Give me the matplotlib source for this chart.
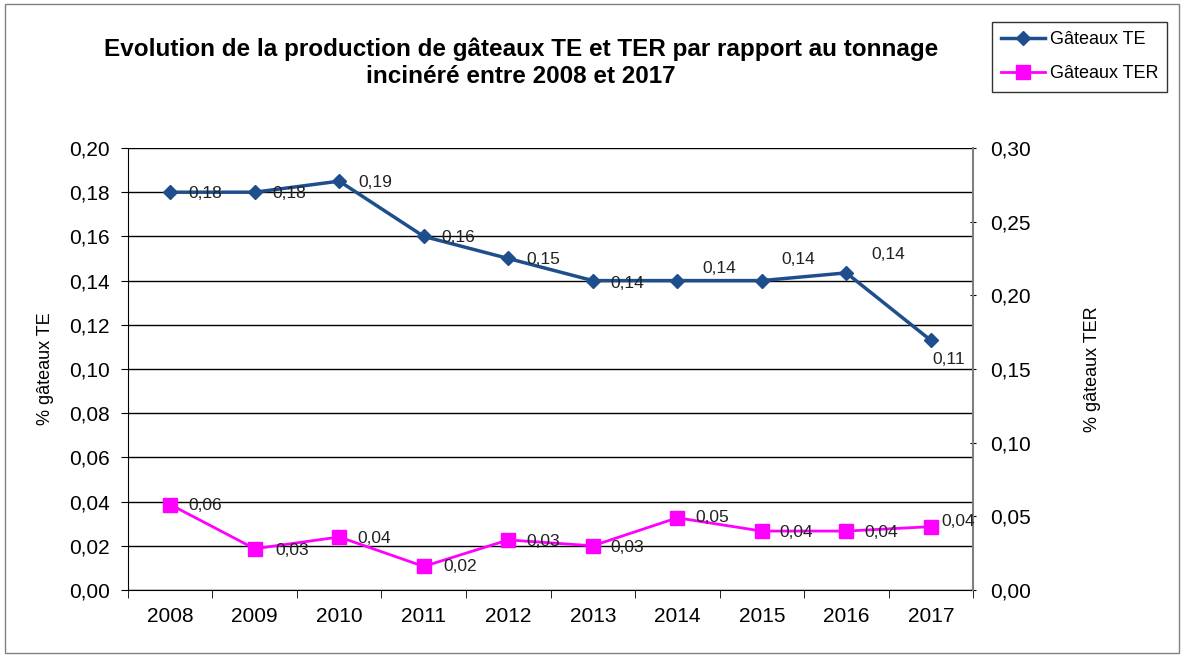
import matplotlib.pyplot as plt
from matplotlib.ticker import FuncFormatter, MultipleLocator
from matplotlib.patches import Rectangle
from decimal import Decimal, ROUND_HALF_UP

plt.rcParams['font.family'] = ['Liberation Sans', 'DejaVu Sans']

annees = ['2008', '2009', '2010', '2011', '2012', '2013', '2014', '2015', '2016', '2017']
gateaux_te = [0.180, 0.180, 0.185, 0.160, 0.150, 0.140, 0.140, 0.140, 0.1435, 0.113]
gateaux_ter = [0.058, 0.028, 0.036, 0.016, 0.034, 0.030, 0.049, 0.040, 0.040, 0.043]

# decalages des etiquettes (points)
offs_te = [(13, -1), (13, -1), (14, -1), (13, -1), (13, -1), (13, -2), (18, 9), (14, 15), (18, 13), (1, -14)]
offs_ter = [(13, -1), (15, -1), (13, -1), (14, 0), (13, -1), (13, -1), (13, 0), (13, -1), (13, -1), (8, 4)]


def virgule(v, pos=None):
    return f'{v:.2f}'.replace('.', ',')


def etiquette(v):
    d = Decimal(str(v)).quantize(Decimal('0.01'), rounding=ROUND_HALF_UP)
    return str(d).replace('.', ',')


fig = plt.figure(figsize=(11.84, 6.56), dpi=100)
fig.patches.append(Rectangle((0.004, 0.004), 0.992, 0.99, transform=fig.transFigure,
                             fill=False, edgecolor='#808080', linewidth=1))
ax = fig.add_axes([0.1081, 0.1006, 0.7137, 0.6738])
ax2 = ax.twinx()

x = list(range(len(annees)))
l1, = ax.plot(x, gateaux_te, color='#1f4e8c', marker='D', markersize=7.5, linewidth=2.5,
              label='Gâteaux TE', zorder=3)
l2, = ax2.plot(x, gateaux_ter, color='#ff00ff', marker='s', markersize=9.5, linewidth=2,
               label='Gâteaux TER', zorder=3)

for i, v in enumerate(gateaux_te):
    ax.annotate(etiquette(v), (i, v), xytext=offs_te[i], textcoords='offset points',
                fontsize=12.5, va='center', ha='left', color='#222222')
for i, v in enumerate(gateaux_ter):
    ax2.annotate(etiquette(v), (i, v), xytext=offs_ter[i], textcoords='offset points',
                 fontsize=12.5, va='center', ha='left', color='#222222')

ax.set_xlim(-0.5, len(annees) - 0.5)
ax.set_ylim(0, 0.20)
ax2.set_ylim(0, 0.30)
ax.yaxis.set_major_locator(MultipleLocator(0.02))
ax2.yaxis.set_major_locator(MultipleLocator(0.05))
ax.yaxis.set_major_formatter(FuncFormatter(virgule))
ax2.yaxis.set_major_formatter(FuncFormatter(virgule))
ax.set_xticks(x)
ax.set_xticklabels(annees)
ax.set_xticks([i - 0.5 for i in range(len(annees) + 1)], minor=True)
ax.tick_params(axis='x', which='major', length=0, labelsize=15, pad=12)
ax.tick_params(axis='x', which='minor', length=6, direction='out')
ax.tick_params(axis='y', labelsize=15, length=5, pad=8)
ax2.tick_params(axis='y', labelsize=15, length=5, direction='inout', pad=10)

ax.grid(axis='y', color='black', linewidth=1)
ax.set_axisbelow(True)
ax.spines['top'].set_visible(False)
ax2.spines['top'].set_visible(False)
ax2.spines['left'].set_visible(False)
ax2.spines['bottom'].set_visible(False)
ax.spines['right'].set_visible(False)
ax2.spines['right'].set_color('#808080')
ax2.spines['right'].set_linewidth(1.5)

ax.set_ylabel('% gâteaux TE', fontsize=13, labelpad=11)
ax2.set_ylabel('% gâteaux TER', fontsize=13, labelpad=38, rotation=90)

fig.text(0.44, 0.904, 'Evolution de la production de gâteaux TE et TER par rapport au tonnage\nincinéré entre 2008 et 2017',
         ha='center', va='center', fontsize=17.5, fontweight='bold', linespacing=1.25)

leg = fig.legend(handles=[l1, l2], loc='upper left', bbox_to_anchor=(0.838, 0.966),
                 fontsize=13, frameon=True, fancybox=False, edgecolor='black',
                 handlelength=2.4, borderpad=0.5, labelspacing=0.95, handletextpad=0.3,
                 borderaxespad=0)
leg.get_frame().set_linewidth(1)

fig.savefig('out.png', dpi=100)
